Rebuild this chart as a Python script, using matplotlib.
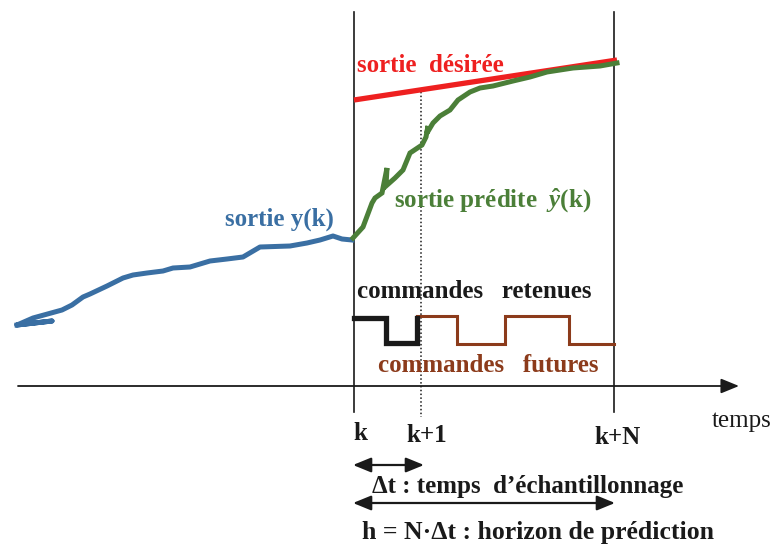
import matplotlib as mpl
mpl.use("Agg")
import matplotlib.pyplot as plt

# Schematic of predictive control: past output, predicted output, reference,
# retained / future commands over the prediction horizon.
# Coordinates are drawing units (x to the right, y downward).

K_X, K1_X, KN_X = 354, 421, 614      # instants k, k+1, k+N
AXIS_Y = 386

past_x = [17, 52, 17, 33, 62, 72, 83, 90, 107, 113, 123, 133, 147, 163, 173,
          190, 200, 210, 227, 243, 260, 290, 307, 320, 333, 342, 352]
past_y = [325, 321, 325, 318, 310, 305, 297, 294, 286, 283, 278, 275, 273,
          271, 268, 267, 264, 261, 259, 257, 247, 246, 243, 240, 236, 239, 240]

pred_x = [353, 363, 372, 375, 382, 387, 386, 395, 403, 410, 422, 426, 428,
          427, 433, 440, 450, 458, 470, 480, 493, 513, 530, 547, 573, 600, 617]
pred_y = [238, 227, 203, 198, 193, 168, 186, 178, 170, 153, 145, 137, 126,
          133, 123, 116, 110, 100, 92, 88, 86, 81, 77, 72, 68, 66, 63]

ref_x = [354, 617]
ref_y = [100, 60]

kept_x = [354, 386, 386, 417, 417]
kept_y = [318, 318, 343, 343, 318]

future_x = [417, 457, 457, 505, 505, 569, 569, 614]
future_y = [316, 316, 344, 344, 316, 316, 344, 344]

BLUE = "#3a6fa3"
GREEN = "#4b7f38"
RED = "#ee2020"
BROWN = "#8c3b1b"
INK = "#1a1a1a"

mpl.rcParams["font.family"] = ["Liberation Serif", "DejaVu Serif"]
mpl.rcParams["mathtext.fontset"] = "custom"
mpl.rcParams["mathtext.it"] = "Liberation Serif:italic:bold"
mpl.rcParams["mathtext.rm"] = "Liberation Serif:bold"

fig = plt.figure(figsize=(7.71, 5.45), dpi=100)
ax = fig.add_axes([0, 0, 1, 1])
ax.set_xlim(0, 771)
ax.set_ylim(545, 0)
ax.axis("off")

# time axis and vertical markers
ax.annotate("", xy=(739, AXIS_Y), xytext=(18, AXIS_Y),
            arrowprops=dict(arrowstyle="-|>,head_length=1.1,head_width=0.45",
                            color=INK, lw=1.3, shrinkA=0, shrinkB=0))
ax.plot([K_X, K_X], [12, 412], color=INK, lw=1.2)
ax.plot([KN_X, KN_X], [12, 412], color=INK, lw=1.2)
ax.plot([K1_X, K1_X], [88, 417], color=INK, lw=1.1, ls=(0, (1, 1.5)))

# curves
ax.plot(ref_x, ref_y, color=RED, lw=3.8, solid_capstyle="butt")
ax.plot(past_x, past_y, color=BLUE, lw=3.6, solid_joinstyle="round")
ax.plot(pred_x, pred_y, color=GREEN, lw=3.6, solid_joinstyle="miter")
ax.plot(future_x, future_y, color=BROWN, lw=2.2, solid_joinstyle="miter")
ax.plot(kept_x, kept_y, color=INK, lw=3.8, solid_joinstyle="miter")

bold = dict(fontsize=18, fontweight="bold", va="center")
ax.text(357, 65, "sortie  désirée", color=RED, ha="left", **bold)
ax.text(394, 200, "sortie prédite  $\\hat{y}$(k)", color=GREEN, ha="left", **bold)
ax.text(225, 219, "sortie y(k)", color=BLUE, ha="left", **bold)
ax.text(357, 292, "commandes   retenues", color=INK, ha="left", **bold)
ax.text(378, 366, "commandes   futures", color=BROWN, ha="left", **bold)

ax.text(353, 433, "k", color=INK, ha="left", **bold)
ax.text(427, 435, "k+1", color=INK, ha="center", **bold)
ax.text(618, 437, "k+N", color=INK, ha="center", **bold)
ax.text(712, 421, "temps", color=INK, ha="left", va="center", fontsize=18)

# interval arrows
dbl = dict(arrowstyle="<|-|>,head_length=1.1,head_width=0.45",
           color=INK, lw=1.6, shrinkA=0, shrinkB=0)
ax.annotate("", xy=(424, 465), xytext=(353, 465), arrowprops=dbl)
ax.annotate("", xy=(615, 503), xytext=(353, 503), arrowprops=dbl)
ax.text(372, 487, "Δt : temps  d’échantillonnage", color=INK, ha="left", **bold)
ax.text(362, 533, "h = N·Δt : horizon de prédiction", color=INK, ha="left",
        fontsize=18.5, fontweight="bold", va="center")

fig.savefig("out.png", dpi=100)
